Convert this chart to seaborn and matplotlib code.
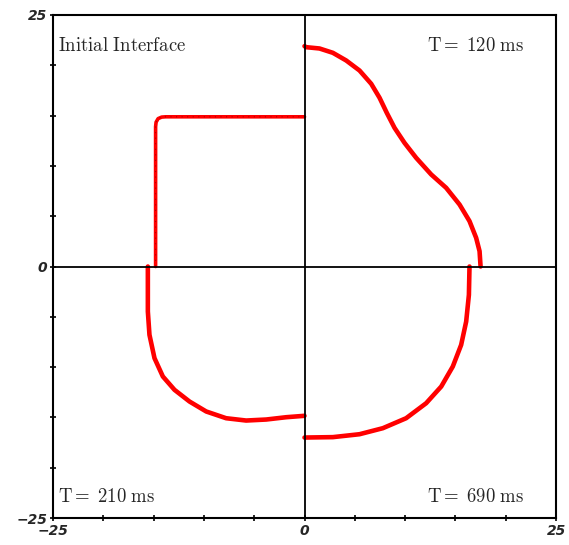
import matplotlib
matplotlib.use("Agg")
import matplotlib.pyplot as plt
import seaborn as sns
import pandas as pd

# Interface positions (x, y) at each time, one quadrant per snapshot
init_x = [-14.8, -14.8, -14.75, -14.55, -14.2, -13.8, 0.0]
init_y = [0.0, 13.9, 14.35, 14.7, 14.85, 14.88, 14.88]

t120_x = [0.0, 0.17, 1.49, 2.82, 4.14, 5.47, 6.63, 7.46, 8.18, 8.95, 9.94, 11.1,
          12.59, 14.08, 15.41, 16.4, 17.06, 17.4, 17.5]
t120_y = [21.9, 21.8, 21.67, 21.24, 20.48, 19.48, 18.16, 16.77, 15.27, 13.78, 12.29, 10.8,
          9.15, 7.82, 6.16, 4.51, 2.85, 1.52, 0.0]

t210_x = [-15.57, -15.57, -15.41, -14.91, -14.08, -12.92, -11.43, -9.77, -7.79, -5.8,
          -3.81, -1.82, 0.0]
t210_y = [0.0, -4.47, -6.79, -9.11, -10.93, -12.26, -13.42, -14.41, -15.08, -15.31,
          -15.21, -14.98, -14.84]

t690_x = [16.4, 16.34, 16.07, 15.57, 14.74, 13.59, 12.09, 10.1, 7.79, 5.47, 2.82, 0.0]
t690_y = [0.0, -2.82, -5.47, -7.79, -9.94, -11.93, -13.59, -15.08, -16.07, -16.67, -16.96, -17.0]

labels = ["Initial Interface", "T= 120 ms", "T= 210 ms", "T= 690 ms"]
tick_values = [-25, -20, -15, -10, -5, 0, 5, 10, 15, 20, 25]
tick_labels = ["\u221225", "", "", "", "", "0", "", "", "", "", "25"]

sns.set_style("white")
plt.rcParams["mathtext.fontset"] = "cm"

fig = plt.figure(figsize=(5.69, 5.45), dpi=100)
ax = fig.add_axes([0.0931, 0.0495, 0.8841, 0.923])

def frame(xs, ys):
    return pd.DataFrame({"x": xs, "y": ys})

red = "#ff0000"
line_kw = dict(sort=False, estimator=None, color=red, solid_joinstyle="round",
               solid_capstyle="round", ax=ax)
sns.lineplot(data=frame(init_x, init_y), x="x", y="y", lw=2.6, **line_kw)
ax.plot(init_x, init_y, color="#b00000", lw=0.8, ls=(0, (1, 4)))
for xs, ys in [(t120_x, t120_y), (t210_x, t210_y), (t690_x, t690_y)]:
    sns.lineplot(data=frame(xs, ys), x="x", y="y", lw=3.3, **line_kw)

# Axis cross at the origin
ax.axhline(0, color="black", lw=1.3, zorder=3)
ax.axvline(0, color="black", lw=1.3, zorder=3)

ax.set_xlim(-25, 25)
ax.set_ylim(-25, 25)
ax.set_xlabel("")
ax.set_ylabel("")
ax.set_xticks(tick_values)
ax.set_yticks(tick_values)
ax.set_xticklabels(tick_labels)
ax.set_yticklabels(tick_labels)
for lab in ax.get_xticklabels() + ax.get_yticklabels():
    lab.set_fontweight("bold")
    lab.set_fontstyle("italic")
    lab.set_fontsize(10)
ax.tick_params(direction="inout", length=4, width=1.2, color="black", pad=2, bottom=True, left=True)
for sp in ax.spines.values():
    sp.set_color("black")
    sp.set_linewidth(1.5)

def cm(s):
    s = s.replace("= ", r"{=}\;")
    return r"$\mathrm{" + s.replace(" ", r"\ ") + "}$"

ax.text(-24.5, 22, cm(labels[0]), fontsize=13.5, ha="left", va="center")
ax.text(21.8, 22, cm(labels[1]), fontsize=13.5, ha="right", va="center")
ax.text(-24.5, -22.9, cm(labels[2]), fontsize=13.5, ha="left", va="center")
ax.text(21.8, -22.9, cm(labels[3]), fontsize=13.5, ha="right", va="center")

fig.savefig("out.png", dpi=100)
